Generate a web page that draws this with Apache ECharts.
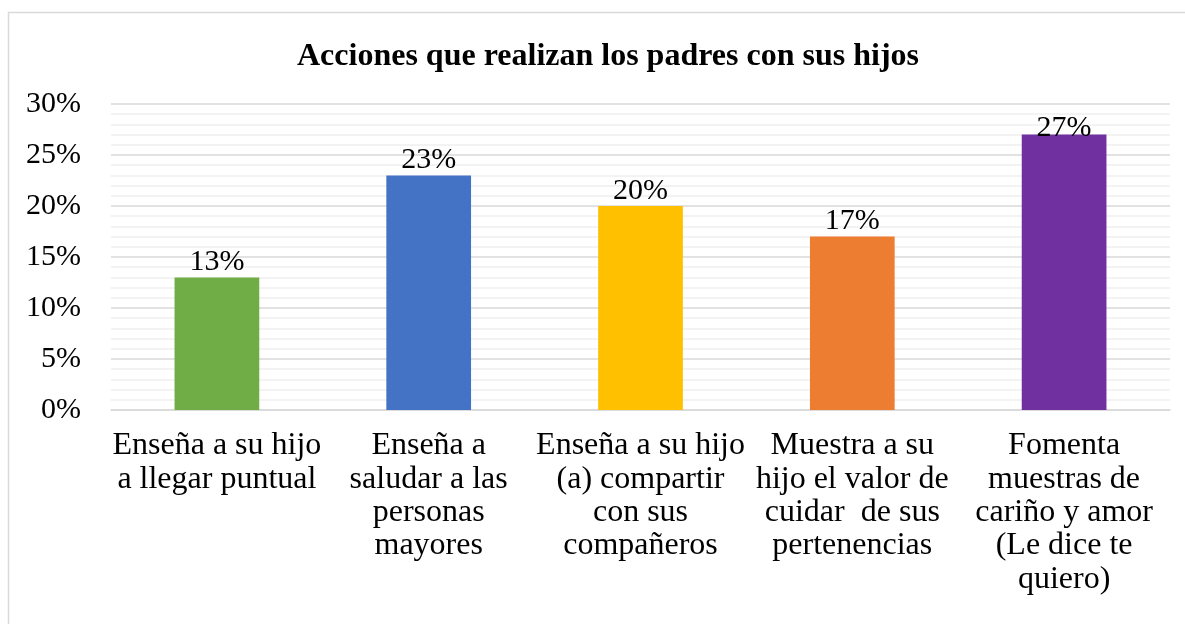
<!DOCTYPE html>
<html>
<head>
<meta charset="utf-8">
<script src="https://cdn.jsdelivr.net/npm/echarts@6/dist/echarts.min.js"></script>
<style>
  html, body { margin: 0; padding: 0; background: #fff; }
  #chart { width: 1185px; height: 624px; }
</style>
</head>
<body>
<div id="chart"></div>
<script>
const categories = [
  'Enseña a su hijo\na llegar puntual',
  'Enseña a\nsaludar a las\npersonas\nmayores',
  'Enseña a su hijo\n(a) compartir\ncon sus\ncompañeros',
  'Muestra a su\nhijo el valor de\ncuidar  de sus\npertenencias',
  'Fomenta\nmuestras de\ncariño y amor\n(Le dice te\nquiero)'
]
const values = [13, 23, 20, 17, 27]
const barColors = ['#70AD47', '#4472C4', '#FFC000', '#ED7D31', '#7030A0']

const font = '"Liberation Serif", "Times New Roman", serif'
const chart = echarts.init(document.getElementById('chart'))

// the tallest label is pushed down onto its bar, as in the original
const barData = values.map((v, i) => {
  const item = { value: v, itemStyle: { color: barColors[i] } }
  if (v === Math.max(...values)) item.label = { offset: [0, 9] }
  return item
})

const option = {
  animation: false,
  graphic: [{
    type: 'rect',
    shape: { x: 8.5, y: 12.5, width: 1300, height: 800 },
    style: { fill: 'none', stroke: '#d9d9d9', lineWidth: 1.5 },
    z: -10
  }],
  title: {
    text: 'Acciones que realizan los padres con sus hijos',
    left: 603,
    top: 36,
    textAlign: 'center',
    textStyle: { fontFamily: font, fontWeight: 'bold', fontSize: 32, color: '#000' }
  },
  grid: { left: 111, right: 15, top: 104, bottom: 214 },
  xAxis: {
    type: 'category',
    data: categories,
    axisLine: { lineStyle: { color: '#d9d9d9', width: 1.5 } },
    axisTick: { show: false },
    axisLabel: {
      interval: 0,
      margin: 19,
      fontFamily: font,
      fontSize: 32,
      lineHeight: 33.4,
      color: '#000'
    }
  },
  yAxis: {
    type: 'value',
    min: 0,
    max: 30,
    interval: 5,
    axisLine: { show: false },
    axisTick: { show: false },
    axisLabel: {
      formatter: '{value}%',
      margin: 30,
      fontFamily: font,
      fontSize: 30,
      color: '#000'
    },
    splitLine: { lineStyle: { color: '#d9d9d9', width: 1.5 } },
    minorTick: { show: false, splitNumber: 5 },
    minorSplitLine: { show: true, lineStyle: { color: '#f0f0f0', width: 1.5 } }
  },
  series: [{
    type: 'bar',
    barWidth: '40%',
    data: barData,
    label: {
      show: true,
      position: 'top',
      distance: 0,
      formatter: '{c}%',
      fontFamily: font,
      fontSize: 30,
      color: '#000'
    }
  }]
}

chart.setOption(option)
</script>
</body>
</html>
